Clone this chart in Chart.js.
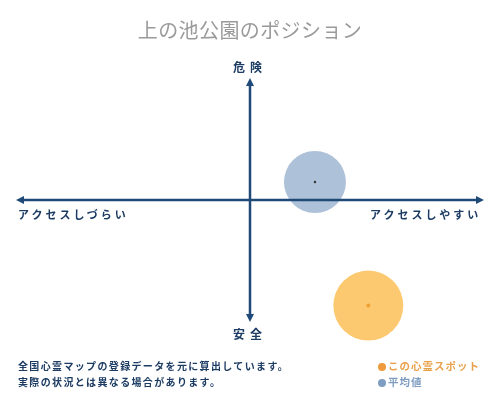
<!DOCTYPE html>
<html>
<head>
<meta charset="utf-8">
<script src="https://cdn.jsdelivr.net/npm/chart.js@4"></script>
<style>
  body { margin: 0; background: #fff; font-family: "Noto Sans CJK JP", sans-serif; }
  #wrap { position: relative; width: 500px; height: 400px; }
  canvas { position: absolute; left: 0; top: 0; }
  .t { position: absolute; white-space: nowrap; line-height: 1; }
  .ax { color: #1d3c63; font-weight: 700; }
  .note { color: #1d3c63; font-weight: 700; font-size: 10px; left: 18px; letter-spacing: 1.35px; }
  .leg { font-size: 10.5px; font-weight: 700; left: 378px; letter-spacing: 1px; }
  .leg i { display: inline-block; width: 8px; height: 8px; border-radius: 50%; margin-right: 2px; vertical-align: -1px; }
</style>
</head>
<body>
<div id="wrap">
  <canvas id="chart" width="500" height="400"></canvas>
  <div class="t" style="left:0;width:500px;top:20px;text-align:center;font-size:20px;color:#9a9a9a;letter-spacing:0.4px">上の池公園のポジション</div>
  <div class="t ax" style="left:233px;top:61px;font-size:12px;letter-spacing:5px">危険</div>
  <div class="t ax" style="left:233px;top:328px;font-size:12px;letter-spacing:5px">安全</div>
  <div class="t ax" style="left:18px;top:209px;font-size:11px;letter-spacing:3px">アクセスしづらい</div>
  <div class="t ax" style="left:370px;top:209px;font-size:11px;letter-spacing:3px">アクセスしやすい</div>
  <div class="t note" style="top:361px">全国心霊マップの登録データを元に算出しています。</div>
  <div class="t note" style="top:377px">実際の状況とは異なる場合があります。</div>
  <div class="t leg" style="top:361px;color:#e9a24c"><i style="background:#ef9a3c"></i>この心霊スポット</div>
  <div class="t leg" style="top:377px;color:#7f9dc0"><i style="background:#7f9dc0"></i>平均値</div>
</div>
<script>
// values: x = access (-100 hard .. 100 easy), y = danger (-100 safe .. 100 danger)
const seriesNames = ["この心霊スポット", "平均値"];
const accessValues = [51, 28];
const dangerValues = [-88, 15];
const bubbleSizes = [35, 31];

const fillColors = ["#fdc970", "#adc1d9"];
const dotColors = ["#f0a030", "#333333"];
const axisColor = "#1f4a78";

const axesPlugin = {
  id: "crossAxes",
  afterDatasetsDraw(chart) {
    const ctx = chart.ctx;
    const area = chart.chartArea;
    const x0 = chart.scales.x.getPixelForValue(0);
    const y0 = chart.scales.y.getPixelForValue(0);
    ctx.save();
    ctx.strokeStyle = axisColor;
    ctx.fillStyle = axisColor;
    ctx.lineWidth = 2.5;
    ctx.beginPath();
    ctx.moveTo(area.left + 4, y0);
    ctx.lineTo(area.right - 4, y0);
    ctx.moveTo(x0, area.top + 4);
    ctx.lineTo(x0, area.bottom - 4);
    ctx.stroke();

    const head = (tx, ty, dx, dy) => {
      const px = -dy, py = dx;
      ctx.beginPath();
      ctx.moveTo(tx, ty);
      ctx.lineTo(tx - dx * 8 + px * 4, ty - dy * 8 + py * 4);
      ctx.lineTo(tx - dx * 8 - px * 4, ty - dy * 8 - py * 4);
      ctx.closePath();
      ctx.fill();
    };
    head(area.left - 2, y0, -1, 0);
    head(area.right + 2, y0, 1, 0);
    head(x0, area.top - 2, 0, -1);
    head(x0, area.bottom + 2, 0, 1);

    // small centre dot on each bubble
    chart.data.datasets.forEach((ds, i) => {
      const el = chart.getDatasetMeta(i).data[0];
      ctx.fillStyle = dotColors[i];
      ctx.beginPath();
      ctx.arc(el.x, el.y, i === 0 ? 2 : 1.2, 0, Math.PI * 2);
      ctx.fill();
    });
    ctx.restore();
  }
};

const chart = new Chart(document.getElementById("chart"), {
  type: "bubble",
  data: {
    datasets: seriesNames.map((name, i) => ({
      label: name,
      data: [{ x: accessValues[i], y: dangerValues[i], r: bubbleSizes[i] }],
      backgroundColor: fillColors[i],
      borderWidth: 0,
      hoverRadius: 0,
      clip: false
    }))
  },
  options: {
    responsive: false,
    animation: false,
    layout: { autoPadding: false, padding: { left: 18, right: 18, top: 80, bottom: 80 } },
    scales: {
      x: { min: -100, max: 100, display: false },
      y: { min: -100, max: 100, display: false }
    },
    plugins: {
      legend: { display: false },
      tooltip: { enabled: false }
    }
  },
  plugins: [axesPlugin]
});
</script>
</body>
</html>
